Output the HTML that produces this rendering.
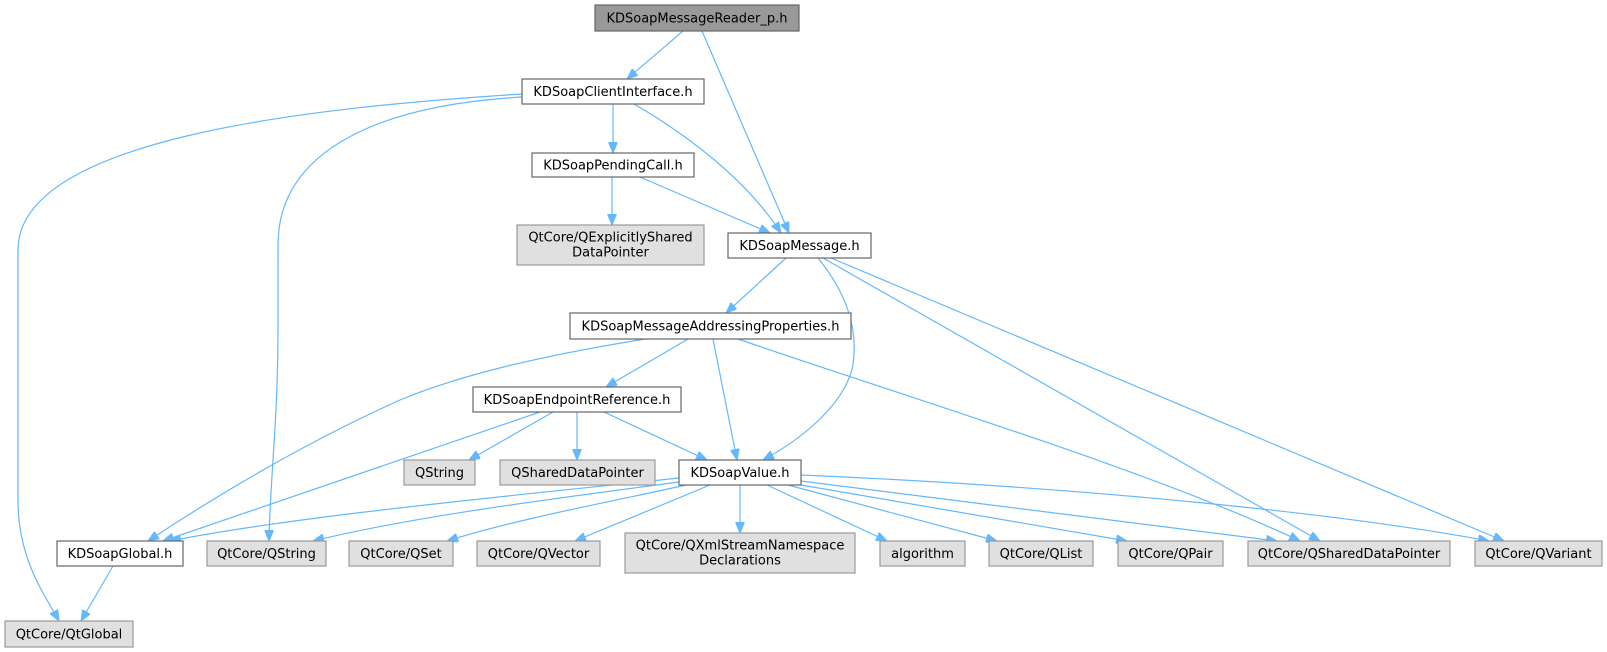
<!DOCTYPE html>
<html>
<head>
<meta charset="utf-8">
<style>
  html, body { margin: 0; padding: 0; background: #ffffff; }
  svg { display: block; }
  text { font-family: "DejaVu Sans", "Liberation Sans", sans-serif; font-size: 13px; fill: #000000; }
  .w { fill: #ffffff; stroke: #666666; stroke-width: 1.2; }
  .g { fill: #e0e0e0; stroke: #999999; stroke-width: 1.2; }
  .r { fill: #999999; stroke: #666666; stroke-width: 1.2; }
  .e { fill: none; stroke: #63b8ff; stroke-width: 1.2; marker-end: url(#ah); }
</style>
</head>
<body>
<svg width="1607" height="652" viewBox="0 0 1607 652" xmlns="http://www.w3.org/2000/svg">
  <defs>
    <marker id="ah" markerUnits="userSpaceOnUse" markerWidth="12" markerHeight="9" refX="11" refY="4.5" orient="auto">
      <path d="M0,0 L11,4.5 L0,9 z" fill="#63b8ff" stroke="#63b8ff" stroke-width="1"/>
    </marker>
  </defs>
  <rect x="0" y="0" width="1607" height="652" fill="#ffffff"/>

  <!-- Edges -->
  <path class="e" d="M683,31 L627,79"/>
  <path class="e" d="M702,31 L789,233"/>
  <path class="e" d="M613,104 L613,153"/>
  <path class="e" d="M634,104 C670,125 740,170 781,233"/>
  <path class="e" d="M612,177 L612,225"/>
  <path class="e" d="M640,177 L770,233"/>
  <path class="e" d="M522,94 C300,108 18,140 18,250 L18,500 C18,560 45,595 59,621"/>
  <path class="e" d="M522,97 C380,105 278,150 278,245 L278,330 C278,420 270,480 269,541"/>
  <path class="e" d="M786,258 L726,313"/>
  <path class="e" d="M818,258 C848,295 858,330 853,365 C845,405 800,440 763,460"/>
  <path class="e" d="M823,258 L1320,541"/>
  <path class="e" d="M831,258 L1504,541"/>
  <path class="e" d="M688,339 L606,387"/>
  <path class="e" d="M713,339 L737,460"/>
  <path class="e" d="M645,339 C540,356 460,375 400,400 C300,445 210,500 148,541"/>
  <path class="e" d="M738,339 C900,395 1150,470 1300,541"/>
  <path class="e" d="M553,412 L469,460"/>
  <path class="e" d="M577,412 L577,460"/>
  <path class="e" d="M604,412 L707,460"/>
  <path class="e" d="M540,412 L163,541"/>
  <path class="e" d="M679,478 C550,492 300,515 170,541"/>
  <path class="e" d="M679,482 C560,498 420,515 313,541"/>
  <path class="e" d="M686,485 C620,500 520,518 447,541"/>
  <path class="e" d="M710,485 L575,541"/>
  <path class="e" d="M740,485 L740,533"/>
  <path class="e" d="M767,485 L887,541"/>
  <path class="e" d="M788,485 L997,541"/>
  <path class="e" d="M801,485 L1127,541"/>
  <path class="e" d="M801,481 L1277,541"/>
  <path class="e" d="M801,475 C1100,488 1350,515 1489,541"/>
  <path class="e" d="M113,566 L81,621"/>

  <!-- Nodes -->
  <rect class="r" x="595" y="5" width="204" height="26"/>
  <text x="697" y="22.5" text-anchor="middle">KDSoapMessageReader_p.h</text>

  <rect class="w" x="522" y="79" width="182" height="25"/>
  <text x="613" y="96" text-anchor="middle">KDSoapClientInterface.h</text>

  <rect class="w" x="532" y="153" width="162" height="24"/>
  <text x="613" y="169.5" text-anchor="middle">KDSoapPendingCall.h</text>

  <rect class="g" x="517" y="225" width="187" height="40"/>
  <text x="610.5" y="241.5" text-anchor="middle">QtCore/QExplicitlyShared</text>
  <text x="610.5" y="256.5" text-anchor="middle">DataPointer</text>

  <rect class="w" x="728" y="233" width="143" height="25"/>
  <text x="799.5" y="250" text-anchor="middle">KDSoapMessage.h</text>

  <rect class="w" x="570" y="313" width="281" height="26"/>
  <text x="710.5" y="330.5" text-anchor="middle">KDSoapMessageAddressingProperties.h</text>

  <rect class="w" x="473" y="387" width="208" height="25"/>
  <text x="577" y="404" text-anchor="middle">KDSoapEndpointReference.h</text>

  <rect class="g" x="404" y="460" width="71" height="25"/>
  <text x="439.5" y="477" text-anchor="middle">QString</text>

  <rect class="g" x="500" y="460" width="155" height="25"/>
  <text x="577.5" y="477" text-anchor="middle">QSharedDataPointer</text>

  <rect class="w" x="679" y="460" width="122" height="25"/>
  <text x="740" y="477" text-anchor="middle">KDSoapValue.h</text>

  <rect class="w" x="57" y="541" width="126" height="25"/>
  <text x="120" y="558" text-anchor="middle">KDSoapGlobal.h</text>

  <rect class="g" x="207" y="541" width="119" height="25"/>
  <text x="266.5" y="558" text-anchor="middle">QtCore/QString</text>

  <rect class="g" x="349" y="541" width="104" height="25"/>
  <text x="401" y="558" text-anchor="middle">QtCore/QSet</text>

  <rect class="g" x="477" y="541" width="123" height="25"/>
  <text x="538.5" y="558" text-anchor="middle">QtCore/QVector</text>

  <rect class="g" x="625" y="533" width="230" height="40"/>
  <text x="740" y="549.5" text-anchor="middle">QtCore/QXmlStreamNamespace</text>
  <text x="740" y="564.5" text-anchor="middle">Declarations</text>

  <rect class="g" x="880" y="541" width="85" height="25"/>
  <text x="922.5" y="558" text-anchor="middle">algorithm</text>

  <rect class="g" x="989" y="541" width="104" height="25"/>
  <text x="1041" y="558" text-anchor="middle">QtCore/QList</text>

  <rect class="g" x="1118" y="541" width="105" height="25"/>
  <text x="1170.5" y="558" text-anchor="middle">QtCore/QPair</text>

  <rect class="g" x="1248" y="541" width="202" height="25"/>
  <text x="1349" y="558" text-anchor="middle">QtCore/QSharedDataPointer</text>

  <rect class="g" x="1475" y="541" width="127" height="25"/>
  <text x="1538.5" y="558" text-anchor="middle">QtCore/QVariant</text>

  <rect class="g" x="5" y="621" width="128" height="26"/>
  <text x="69" y="638.5" text-anchor="middle">QtCore/QtGlobal</text>
</svg>
</body>
</html>
